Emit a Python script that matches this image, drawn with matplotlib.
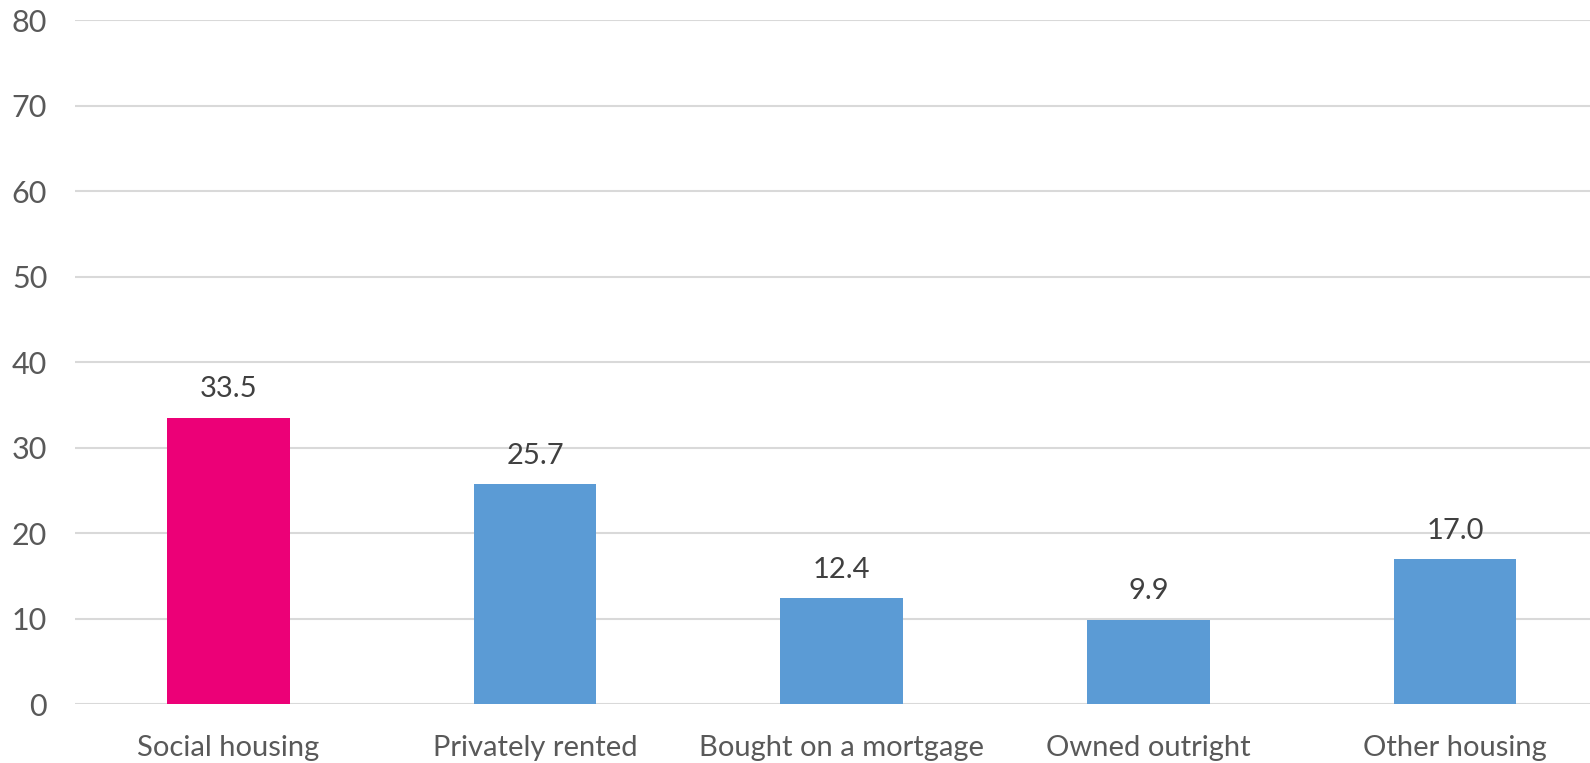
import matplotlib.pyplot as plt

categories = ["Social housing", "Privately rented", "Bought on a mortgage",
              "Owned outright", "Other housing"]
values = [33.5, 25.7, 12.4, 9.9, 17.0]
bar_colors = ["#EC0077", "#5B9BD5", "#5B9BD5", "#5B9BD5", "#5B9BD5"]
y_ticks = [0, 10, 20, 30, 40, 50, 60, 70, 80]

plt.rcParams['font.family'] = ['Lato', 'DejaVu Sans']

fig = plt.figure(figsize=(15.9, 7.63), dpi=100)
ax = fig.add_axes([75 / 1590, (763 - 704.3) / 763, 1 - 75 / 1590, (704.3 - 20) / 763])

x = range(len(categories))
bars = ax.bar(x, values, width=0.40, color=bar_colors, zorder=2)

for rect, v in zip(bars, values):
    ax.annotate(f"{v:.1f}", (rect.get_x() + rect.get_width() / 2, v),
                xytext=(0, 11), textcoords="offset points",
                ha="center", va="bottom", fontsize=21, color="#404040")

ax.set_ylim(0, 80)
ax.set_xlim(-0.5, 4.44)
ax.set_yticks(y_ticks)
ax.set_xticks(list(x))
ax.set_xticklabels(categories)
ax.yaxis.grid(True, color="#D9D9D9", linewidth=1.5, zorder=0)
ax.set_axisbelow(True)
for s in ax.spines.values():
    s.set_visible(False)
ax.tick_params(axis="both", length=0, labelsize=21, labelcolor="#595959")
ax.tick_params(axis="y", labelsize=22, pad=20)
ax.tick_params(axis="x", pad=22)

fig.savefig("out.png", dpi=100)
